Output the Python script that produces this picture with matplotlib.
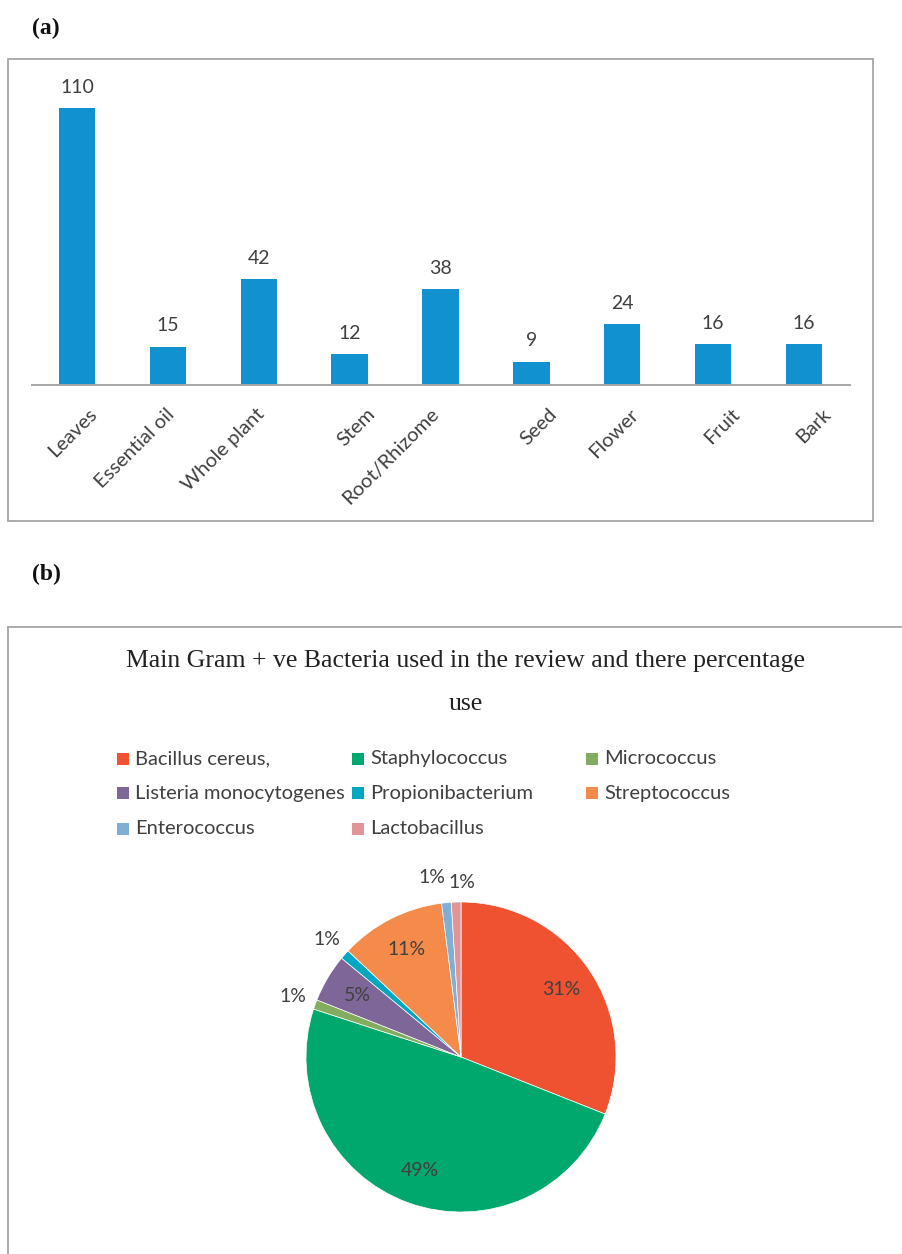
import matplotlib
matplotlib.use("Agg")
import matplotlib.pyplot as plt
import matplotlib.transforms as mtransforms
import numpy as np
from matplotlib.lines import Line2D
from matplotlib.patches import Rectangle

# ── Data ─────────────────────────────────────────────────────────────────────
plant_parts = ["Leaves", "Essential oil", "Whole plant", "Stem", "Root/Rhizome",
               "Seed", "Flower", "Fruit", "Bark"]
part_counts = [110, 15, 42, 12, 38, 9, 24, 16, 16]

bacteria = ["Bacillus cereus,", "Staphylococcus", "Micrococcus",
            "Listeria monocytogenes", "Propionibacterium", "Streptococcus",
            "Enterococcus", "Lactobacillus"]
bacteria_pct = [31, 49, 1, 5, 1, 11, 1, 1]
bacteria_colors = ["#EF5230", "#00A86E", "#84AC5E", "#7F6699",
                   "#00A7C0", "#F48B4B", "#80AFD6", "#E39497"]

W, H = 902, 1254
BODY = "Lato"
SERIF = "Liberation Serif"
GREY = "#A6A6A6"
TXT = "#404040"

# horizontal nudge (px) of each rotated category label, spreadsheet-style
label_nudge_px = [11, -2, -3, 17, -11, 17, 7, 18, 18]
# small outside pie labels that would collide get pushed apart (axes units)
pie_label_nudge = {6: (-0.08, 0.015), 7: (0.04, -0.026)}


def fx(px):
    return px / W


def fy(py):
    return 1 - py / H


fig = plt.figure(figsize=(W / 100, H / 100), dpi=100, facecolor="white")

# ── (a) plant parts bar chart ────────────────────────────────────────────────
fig.text(fx(32), fy(28), "(a)", family=SERIF, weight="bold", fontsize=17,
         color="#111111", va="center", ha="left")
fig.add_artist(Rectangle((fx(8), fy(521)), fx(873) - fx(8), fy(59) - fy(521),
                         transform=fig.transFigure, fill=False,
                         edgecolor=GREY, linewidth=1.3))

px_per_unit = 2.51
ax = fig.add_axes([fx(31.5), fy(384.5), fx(818), 120 * px_per_unit / H])
x = np.arange(len(plant_parts))
bars = ax.bar(x, part_counts, width=0.4, color="#1191D0")
ax.bar_label(bars, labels=[str(v) for v in part_counts], padding=9,
             fontsize=14, family=BODY, color=TXT)
ax.set_xlim(-0.5, len(plant_parts) - 0.5)
ax.set_ylim(0, 120)
for side in ("top", "left", "right"):
    ax.spines[side].set_visible(False)
ax.spines["bottom"].set_color(GREY)
ax.spines["bottom"].set_linewidth(1.4)
ax.set_yticks([])
ax.set_xticks(x)
ax.set_xticklabels(plant_parts, fontsize=14.5, family=BODY, color=TXT)
ax.tick_params(axis="x", length=0, pad=15)
for lbl, dx in zip(ax.get_xticklabels(), label_nudge_px):
    shift = mtransforms.ScaledTranslation(dx / 100, 0, fig.dpi_scale_trans)
    lbl.set_rotation(45)
    lbl.set_ha("right")
    lbl.set_va("top")
    lbl.set_rotation_mode("anchor")
    lbl.set_transform(lbl.get_transform() + shift)

# ── (b) Gram-positive bacteria pie ───────────────────────────────────────────
fig.text(fx(32), fy(574), "(b)", family=SERIF, weight="bold", fontsize=17,
         color="#111111", va="center", ha="left")
fig.add_artist(Line2D([fx(8), 1.0], [fy(627), fy(627)],
                      transform=fig.transFigure, color=GREY, linewidth=1.3))
fig.add_artist(Line2D([fx(8), fx(8)], [fy(627), 0.0],
                      transform=fig.transFigure, color=GREY, linewidth=1.3))

fig.text(fx(465), fy(661), "Main Gram + ve Bacteria used in the review and there percentage",
         family=SERIF, fontsize=18.5, color="#222222", ha="center", va="center")
fig.text(fx(466), fy(704), "use", family=SERIF, fontsize=18.5,
         color="#222222", ha="center", va="center")

# legend, three fixed-width columns
col_x = [117, 352, 586]
row_y = [758.5, 793, 829]
sq = 12
for i, (name, col) in enumerate(zip(bacteria, bacteria_colors)):
    r, c = divmod(i, 3)
    x0, y0 = col_x[c], row_y[r]
    fig.add_artist(Rectangle((fx(x0), fy(y0 + sq / 2)), fx(sq), sq / H,
                             transform=fig.transFigure, facecolor=col,
                             edgecolor="none"))
    fig.text(fx(x0 + 18), fy(y0), name, family=BODY, fontsize=14.5,
             color=TXT, ha="left", va="center")

cx, cy, R, half = 461, 1057, 155, 190
pax = fig.add_axes([fx(cx - half), fy(cy + half), fx(2 * half), 2 * half / H])
wedges, _ = pax.pie(bacteria_pct, colors=bacteria_colors, startangle=90,
                    counterclock=False, radius=1,
                    wedgeprops=dict(linewidth=0.5, edgecolor="white"))
# pie() resets the limits, so fix the scale afterwards
lim = half / R
pax.set_xlim(-lim, lim)
pax.set_ylim(-lim, lim)
pax.set_aspect("equal")
pax.axis("off")
for i, (w, v) in enumerate(zip(wedges, bacteria_pct)):
    mid = np.deg2rad((w.theta1 + w.theta2) / 2)
    dist = 0.78 if v >= 5 else 1.15
    nx, ny = pie_label_nudge.get(i, (0, 0))
    pax.text(dist * np.cos(mid) + nx, dist * np.sin(mid) + ny, f"{v}%",
             ha="center", va="center", fontsize=14, family=BODY, color=TXT)

fig.savefig("out.png", dpi=100, facecolor="white")
